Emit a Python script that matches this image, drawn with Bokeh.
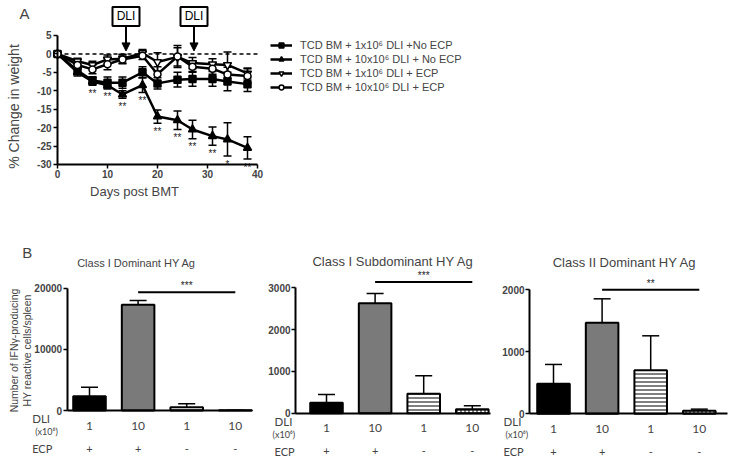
import math
from bokeh.plotting import figure
from bokeh.models import (ColumnDataSource, Range1d, FixedTicker, Legend, LegendItem,
                          Whisker, TeeHead, Arrow, NormalHead, Label, LabelSet)
from bokeh.layouts import column, row
from bokeh.core.properties import value
from bokeh.embed import file_html
from bokeh.resources import INLINE

# ---------------- data: panel A ----------------
days = [0, 4, 7, 10, 13, 17, 20, 24, 27, 31, 34, 38]
s1_mean = [0, -4.5, -7.2, -7.8, -7.8, -5.0, -8.0, -7.0, -6.8, -6.8, -7.5, -8.2]
s1_sem = [0, 0.8, 1.0, 1.5, 1.5, 1.5, 1.5, 2.0, 2.0, 2.0, 2.5, 2.0]
s2_mean = [0, -5.0, -7.5, -8.5, -11.0, -8.5, -17.0, -18.0, -20.5, -22.3, -23.2, -25.5]
s2_sem = [0, 1.0, 1.0, 1.0, 1.0, 2.0, 1.8, 2.5, 2.5, 2.5, 4.5, 3.0]
s3_mean = [0, -2.0, -3.0, -1.5, -1.3, 0.2, -2.2, -0.8, -2.5, -2.8, -3.0, -5.3]
s3_sem = [0, 0.8, 1.0, 1.2, 1.2, 1.0, 2.5, 2.5, 1.5, 1.5, 3.5, 1.5]
s4_mean = [0, -3.0, -4.2, -2.8, -1.5, -0.5, -5.5, -0.7, -3.5, -4.0, -5.6, -6.0]
s4_sem = [0, 1.0, 1.2, 1.5, 1.2, 1.0, 2.0, 3.0, 1.5, 1.5, 2.0, 2.0]
series_labels = ["TCD BM + 1x10\u2076 DLI +No ECP",
                 "TCD BM + 10x10\u2076 DLI + No ECP",
                 "TCD BM + 1x10\u2076 DLI + ECP",
                 "TCD BM + 10x10\u2076 DLI + ECP"]
s2_sig = ["", "", "**", "**", "**", "**", "**", "**", "**", "**", "*", "**"]
dli_days = [13.7, 27.3]
a_xticks = [0, 10, 20, 30, 40]
a_yticks = [-30, -25, -20, -15, -10, -5, 0, 5]

# ---------------- data: panel B ----------------
b_titles = ["Class I Dominant HY Ag", "Class I Subdominant HY Ag", "Class II Dominant HY Ag"]
dli_dose = ["1", "10", "1", "10"]
ecp = ["+", "+", "-", "-"]
b1_mean = [2340, 17290, 545, 30]
b1_sem = [1470, 700, 545, 20]
b2_mean = [249, 2633, 463, 96]
b2_sem = [198, 231, 431, 80]
b3_mean = [483, 1464, 702, 48]
b3_sem = [311, 386, 553, 27]
b_yticks = [[0, 10000, 20000], [0, 1000, 2000, 3000], [0, 1000, 2000]]
b_sig = [19350, 3136, 1995]
b_sig_text = ["***", "***", "**"]

FONT = "Liberation Sans"
FONT2 = "Lato"

# ---------------- panel A (frame covers the whole canvas) ----------------
A_W, A_H = 729, 215
KX, KY = 5.0, 3.686
day0_px, zero_px = 57.0, 53.4
xa0 = -day0_px / KX
xa1 = xa0 + A_W / KX
ya1 = zero_px / KY
ya0 = ya1 - A_H / KY

pA = figure(width=A_W, height=A_H, x_range=Range1d(xa0, xa1), y_range=Range1d(ya0, ya1),
            output_backend="svg", toolbar_location=None, min_border=0, title=None)
pA.grid.visible = False
pA.outline_line_color = None

pA.line(x=[a_xticks[0], a_xticks[-1]], y=[0, 0], line_dash="4 3", line_width=1.5, color="black")

markers = ["square", "triangle", "inverted_triangle", "circle"]
fills = ["black", "black", "white", "white"]
msizes = [7, 8, 8, 7]
means = [s1_mean, s2_mean, s3_mean, s4_mean]
sems = [s1_sem, s2_sem, s3_sem, s4_sem]
items = []
for i in range(4):
    m, s = means[i], sems[i]
    wx = [d for d, e in zip(days, s) if e > 0]
    wlo = [v - e for v, e in zip(m, s) if e > 0]
    whi = [v + e for v, e in zip(m, s) if e > 0]
    wsrc = ColumnDataSource(dict(x=wx, lo=wlo, hi=whi))
    pA.add_layout(Whisker(source=wsrc, base="x", lower="lo", upper="hi",
                          line_width=1.5, line_color="black",
                          upper_head=TeeHead(size=8, line_width=1.5, line_color="black"),
                          lower_head=TeeHead(size=8, line_width=1.5, line_color="black")))
    src = ColumnDataSource(dict(x=days, y=m))
    rl = pA.line("x", "y", source=src, line_width=2.5, color="black")
    rs = pA.scatter("x", "y", source=src, marker=markers[i], size=msizes[i],
                    fill_color=fills[i], line_color="black", line_width=1.5)
    items.append(LegendItem(label=series_labels[i], renderers=[rl, rs]))

star_y = [v - e - 0.7 for v, e in zip(s2_mean, s2_sem)]
pA.text(x=days, y=star_y, text=s2_sig, text_font=value(FONT), text_font_size="10px",
        text_align="center", text_baseline="top", text_color="#222222")

box_y = a_yticks[-1] + 19 / KY
box_bottom = box_y - 9.5 / KY
pA.rect(x=dli_days, y=[box_y] * len(dli_days), width=27, height=19,
        width_units="screen", height_units="screen", fill_color="white",
        line_color="black", line_width=2)
pA.text(x=dli_days, y=[box_y] * len(dli_days), text=["DLI"] * len(dli_days),
        text_font=value(FONT), text_font_size="12px", text_align="center",
        text_baseline="middle", text_color="black")
for d in dli_days:
    pA.add_layout(Arrow(end=NormalHead(size=8, fill_color="black", line_color="black"),
                        x_start=d, y_start=box_bottom, x_end=d, y_end=3 / KY,
                        line_width=2, line_color="black"))

for ax in (pA.xaxis[0], pA.yaxis[0]):
    ax.axis_line_width = 2
    ax.major_tick_line_width = 1.5
    ax.major_tick_out = 4
    ax.major_tick_in = 0
    ax.minor_tick_line_color = None
    ax.major_label_text_font = FONT
    ax.major_label_text_font_style = "bold"
    ax.major_label_text_font_size = "10px"
    ax.major_label_standoff = 2
pA.xaxis.ticker = FixedTicker(ticks=a_xticks)
pA.xaxis.bounds = (a_xticks[0], a_xticks[-1])
pA.xaxis.fixed_location = a_yticks[0]
pA.xaxis.major_label_overrides = {t: str(t) for t in a_xticks}
pA.yaxis.ticker = FixedTicker(ticks=a_yticks)
pA.yaxis.bounds = (a_yticks[0], a_yticks[-1])
pA.yaxis.fixed_location = a_xticks[0]
pA.yaxis.major_label_overrides = {t: str(t) for t in a_yticks}

legend = Legend(items=items, location=(270, 122), padding=0, margin=0, spacing=2,
                label_height=12, glyph_height=12, glyph_width=22, label_standoff=8,
                border_line_color=None, background_fill_alpha=0,
                label_text_font=FONT, label_text_font_size="11px")
pA.add_layout(legend)

pA.add_layout(Label(x=a_xticks[0], y=a_yticks[-1], x_offset=-33, y_offset=22, text="A",
                    text_font=FONT, text_font_size="15px", text_align="center",
                    text_baseline="middle"))
pA.add_layout(Label(x=a_xticks[0], y=a_yticks[0], x_offset=-44, y_offset=58,
                    text="% Change in weight", text_font=FONT, text_font_size="14px",
                    angle=math.pi / 2, text_align="center", text_baseline="middle"))
pA.add_layout(Label(x=a_xticks[0], y=a_yticks[0], x_offset=77, y_offset=-27,
                    text="Days post BMT", text_font=FONT, text_font_size="13px",
                    text_align="center", text_baseline="middle"))

# ---------------- panel B (three canvases, each one big frame) ----------------
B_H = 246
b_w = [258, 237, 234]
b_zero_px = [195.0, 197.7, 198.3]          # pixel row of value 0, from canvas top
b_axis_px = [122.3, 125.4, 124.3]          # pixel length of the value axis
b_bar1_px = [89.0, 68.0, 58.0]             # pixel column of first bar, from canvas left
SPACING = 48.6
b_axis_x = [(0.54, 4.36), (0.363, 4.37), (0.507, 4.57)]
b_rowlab_dx = [(-35, -32, -35), (-21, -23, -21), (-26, -24, -26)]
b_title_dx = [69.3, 97.5, 95.0]
b_title_dy = [148, 151.7, 151.3]
b_title_size = ["11px", "13px", "13px"]
bar_fill = ["black", "#7a7a7a", "white", "white"]
bar_hatch = ["blank", "blank", "horizontal_line", "cross"]
b_means = [b1_mean, b2_mean, b3_mean]
b_sems = [b1_sem, b2_sem, b3_sem]

figsB = []
for i in range(3):
    ymax = b_yticks[i][-1]
    ky = b_axis_px[i] / ymax
    y1 = b_zero_px[i] / ky
    y0 = y1 - B_H / ky
    x0 = 1 - b_bar1_px[i] / SPACING
    x1 = x0 + b_w[i] / SPACING
    ax0, ax1 = b_axis_x[i]
    p = figure(width=b_w[i], height=B_H, x_range=Range1d(x0, x1), y_range=Range1d(y0, y1),
               output_backend="svg", toolbar_location=None, min_border=0, title=None)
    p.grid.visible = False
    p.outline_line_color = None
    pos = list(range(1, len(dli_dose) + 1))
    m, s = b_means[i], b_sems[i]
    src = ColumnDataSource(dict(x=pos, top=m, upper=[a + b for a, b in zip(m, s)],
                                fill=bar_fill, hatch=bar_hatch, dli=dli_dose, ecp=ecp,
                                base=[0] * len(pos)))
    p.add_layout(Whisker(source=src, base="x", lower="top", upper="upper",
                         line_width=1.5, line_color="black", lower_head=None,
                         upper_head=TeeHead(size=17, line_width=1.5, line_color="black")))
    p.vbar(x="x", top="top", bottom=0, width=0.67, source=src, fill_color="fill",
           hatch_pattern="hatch", hatch_color="black", hatch_scale=4, hatch_weight=1,
           line_color="black", line_width=2)
    p.segment(x0=[pos[1]], x1=[pos[3]], y0=[b_sig[i]], y1=[b_sig[i]],
              line_width=2, color="black")
    p.add_layout(Label(x=(pos[1] + pos[3]) / 2, y=b_sig[i], y_offset=1, text=b_sig_text[i],
                       text_font=FONT, text_font_size="10px", text_align="center",
                       text_baseline="bottom", text_color="#222222"))

    p.yaxis.ticker = FixedTicker(ticks=b_yticks[i])
    p.yaxis.bounds = (0, ymax)
    p.yaxis.fixed_location = ax0
    p.yaxis.major_label_overrides = {t: str(t) for t in b_yticks[i]}
    p.yaxis.axis_line_width = 2
    p.yaxis.major_tick_line_width = 1.5
    p.yaxis.major_tick_out = 4
    p.yaxis.major_tick_in = 0
    p.yaxis.minor_tick_line_color = None
    p.yaxis.major_label_text_font = FONT
    p.yaxis.major_label_text_font_style = "bold"
    p.yaxis.major_label_text_font_size = "10px"
    p.yaxis.major_label_standoff = 1
    p.xaxis.ticker = FixedTicker(ticks=[])
    p.xaxis.bounds = (ax0, ax1)
    p.xaxis.fixed_location = 0
    p.xaxis.axis_line_width = 2
    p.xaxis.major_tick_line_color = None
    p.xaxis.minor_tick_line_color = None

    p.add_layout(LabelSet(x="x", y="base", text="dli", source=src, y_offset=-15,
                          text_font=value(FONT2), text_font_size="12px",
                          text_align="center", text_baseline="middle"))
    p.add_layout(LabelSet(x="x", y="base", text="ecp", source=src, y_offset=-38,
                          text_font=value(FONT2), text_font_size="11px",
                          text_align="center", text_baseline="middle"))
    dx = b_rowlab_dx[i]
    p.add_layout(Label(x=ax0, y=0, x_offset=dx[0], y_offset=-8, text="DLI",
                       text_font=FONT2, text_font_size="11.5px", text_align="left",
                       text_baseline="middle"))
    p.add_layout(Label(x=ax0, y=0, x_offset=dx[1], y_offset=-21, text="(x10\u2076)",
                       text_font=FONT2, text_font_size="9px", text_align="left",
                       text_baseline="middle"))
    p.add_layout(Label(x=ax0, y=0, x_offset=dx[2], y_offset=-38, text="ECP",
                       text_font=FONT2, text_font_size="11px", text_align="left",
                       text_baseline="middle"))
    p.add_layout(Label(x=ax0, y=0, x_offset=b_title_dx[i], y_offset=b_title_dy[i],
                       text=b_titles[i], text_font=FONT, text_font_size=b_title_size[i],
                       text_align="center", text_baseline="middle"))
    if i == 0:
        p.add_layout(Label(x=ax0, y=0, x_offset=-40, y_offset=158, text="B",
                           text_font=FONT, text_font_size="15px", text_align="center",
                           text_baseline="middle"))
        p.add_layout(Label(x=ax0, y=0, x_offset=-52.7, y_offset=60,
                           text="Number of IFN\u03b3-producing", text_font=FONT,
                           text_font_size="10.5px", angle=math.pi / 2,
                           text_align="center", text_baseline="middle"))
        p.add_layout(Label(x=ax0, y=0, x_offset=-39.7, y_offset=60,
                           text="HY reactive cells/spleen", text_font=FONT,
                           text_font_size="10.5px", angle=math.pi / 2,
                           text_align="center", text_baseline="middle"))
    figsB.append(p)

layout = column(pA, row(*figsB))
open("out.html", "w").write(file_html(layout, INLINE))
